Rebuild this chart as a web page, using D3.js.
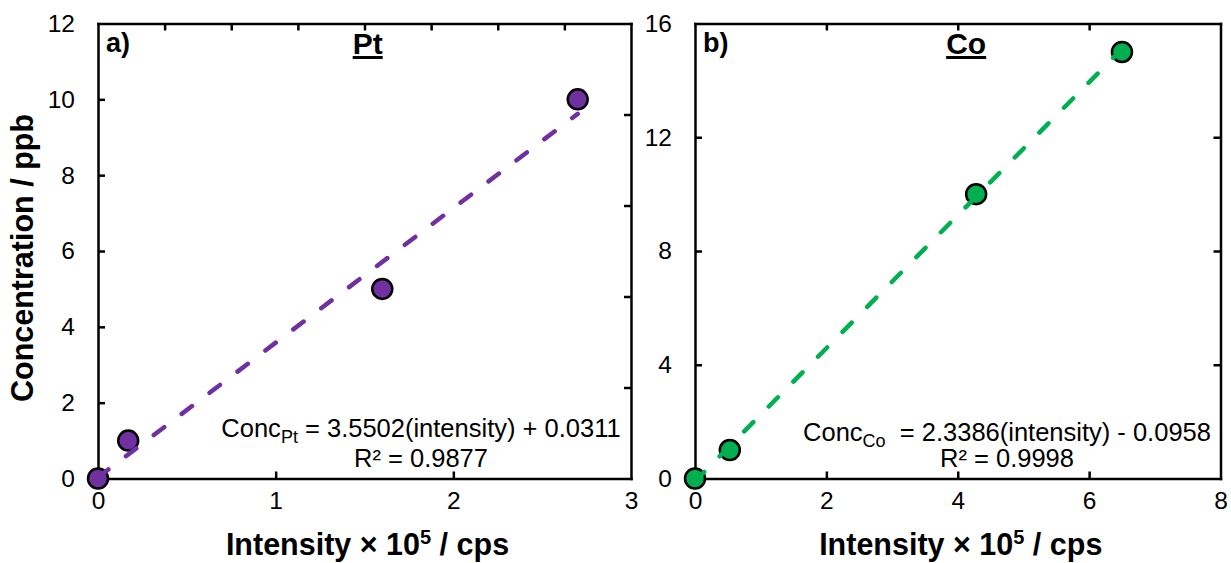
<!DOCTYPE html>
<meta charset="utf-8">
<style>
    body {
        margin: 0;
        background: #fff;
    }
    text {
        font-family: Arial, "Liberation Sans", sans-serif;
        fill: #000;
    }
    .axis path, .axis line {
        stroke: #000;
        stroke-width: 2.5;
    }
    .axis text {
        font-size: 24.5px;
    }
    .title {
        font-size: 30.5px;
        font-weight: bold;
    }
</style>
<body>
<script src="https://d3js.org/d3.v7.min.js"></script>
<script>

    // Pt calibration
    var ptIntensity = [0, 0.17, 1.6, 2.7],
        ptConc = [0, 1, 5, 10],
        ptFit = {slope: 3.5502, intercept: 0.0311, r2: "0.9877"},
        ptXTicks = [0, 1, 2, 3],
        ptYTicks = [0, 2, 4, 6, 8, 10, 12],
        ptTopTicks = [0.5, 1, 1.5, 2, 2.5, 3, 3.5],   // secondary axis, domain 0-4
        ptRightTicks = [2, 4, 6, 8];                  // secondary axis, domain 0-10

    // Co calibration
    var coIntensity = [0, 0.53, 4.28, 6.5],
        coConc = [0, 1, 10, 15],
        coFit = {slope: 2.3386, intercept: -0.0958, r2: "0.9998"},
        coXTicks = [0, 2, 4, 6, 8],
        coYTicks = [0, 4, 8, 12, 16],
        coTopTicks = [2, 4, 6],
        coRightTicks = [4, 8, 12];

    var width = 1231, height = 563;

    var svg = d3.select("body").append("svg")
            .attr("width", width)
            .attr("height", height);

    var panels = [
        {
            left: 98, right: 631, top: 23.5, bottom: 478.5,
            xs: ptIntensity, ys: ptConc, fit: ptFit,
            xDomain: [0, 3], yDomain: [0, 12],
            xTicks: ptXTicks, yTicks: ptYTicks,
            topDomain: [0, 4], topTicks: ptTopTicks,
            rightDomain: [0, 10], rightTicks: ptRightTicks,
            color: "#7030A0", label: "a)", name: "Pt", nameX: 0.506,
            eqX: 421, eqY: 437, r2Y: 467, sub: "Pt", gap: " = ",
            sign: " + "
        },
        {
            left: 695, right: 1220.5, top: 23.5, bottom: 478.5,
            xs: coIntensity, ys: coConc, fit: coFit,
            xDomain: [0, 8], yDomain: [0, 16],
            xTicks: coXTicks, yTicks: coYTicks,
            topDomain: [0, 8], topTicks: coTopTicks,
            rightDomain: [0, 16], rightTicks: coRightTicks,
            color: "#00B050", label: "b)", name: "Co", nameX: 0.516,
            eqX: 1007, eqY: 441, r2Y: 467, sub: "Co", gap: "\u00a0\u00a0= ",
            sign: " - "
        }
    ];

    panels.forEach(drawPanel);

    function drawPanel(p) {
        var x = d3.scaleLinear().domain(p.xDomain).range([p.left, p.right]),
            y = d3.scaleLinear().domain(p.yDomain).range([p.bottom, p.top]),
            xTop = d3.scaleLinear().domain(p.topDomain).range([p.left, p.right]),
            yRight = d3.scaleLinear().domain(p.rightDomain).range([p.bottom, p.top]);

        var g = svg.append("g");

        // secondary axes (no labels, ticks inward)
        g.append("g")
            .attr("class", "axis")
            .attr("transform", "translate(0," + p.top + ")")
            .call(d3.axisTop(xTop).tickValues(p.topTicks).tickSizeInner(-7).tickSizeOuter(0).tickFormat(""));

        g.append("g")
            .attr("class", "axis")
            .attr("transform", "translate(" + p.right + ",0)")
            .call(d3.axisRight(yRight).tickValues(p.rightTicks).tickSizeInner(-7).tickSizeOuter(0).tickFormat(""));

        // primary axes
        var gx = g.append("g")
            .attr("class", "axis")
            .attr("transform", "translate(0," + p.bottom + ")")
            .call(d3.axisBottom(x).tickValues(p.xTicks).tickSizeInner(-7).tickSizeOuter(0).tickPadding(13).tickFormat(d3.format("d")));

        var gy = g.append("g")
            .attr("class", "axis")
            .attr("transform", "translate(" + p.left + ",0)")
            .call(d3.axisLeft(y).tickValues(p.yTicks).tickSizeInner(-7).tickSizeOuter(0).tickPadding(23).tickFormat(d3.format("d")));

        g.selectAll(".axis").attr("font-family", null).attr("font-size", null);
        g.selectAll(".axis .domain").attr("stroke-linecap", "square");
        // hide the tick lines that sit on the corners
        gx.selectAll(".tick line").filter(function(d) { return d === 0 || d === p.xDomain[1]; }).remove();
        gy.selectAll(".tick line").filter(function(d) { return d === 0 || d === p.yDomain[1]; }).remove();

        // markers
        g.append("g")
            .selectAll("circle")
            .data(p.xs.map(function(d, i) { return [d, p.ys[i]]; }))
            .enter().append("circle")
            .attr("cx", function(d) { return x(d[0]); })
            .attr("cy", function(d) { return y(d[1]); })
            .attr("r", 10)
            .attr("fill", p.color)
            .attr("stroke", "#000")
            .attr("stroke-width", 2.5);

        // linear trendline, drawn over markers as in the source
        var xMax = d3.max(p.xs);
        var line = d3.line()
            .x(function(d) { return x(d); })
            .y(function(d) { return y(p.fit.slope * d + p.fit.intercept); });

        g.append("path")
            .datum([0, xMax])
            .attr("d", line)
            .attr("fill", "none")
            .attr("stroke", p.color)
            .attr("stroke-width", 4.5)
            .attr("stroke-linecap", "round")
            .attr("stroke-dasharray", "13,22");

        // panel label and element title
        g.append("text")
            .attr("x", p.left + 8)
            .attr("y", 52)
            .attr("font-size", 27)
            .attr("font-weight", "bold")
            .text(p.label);

        var cx = p.left + p.nameX * (p.right - p.left);
        g.append("text")
            .attr("x", cx)
            .attr("y", 54)
            .attr("text-anchor", "middle")
            .attr("font-size", 30)
            .attr("font-weight", "bold")
            .attr("text-decoration", "underline")
            .text(p.name);

        // fit equation
        var eq = g.append("text")
            .attr("x", p.eqX)
            .attr("y", p.eqY)
            .attr("text-anchor", "middle")
            .attr("font-size", 25.5);
        eq.append("tspan").text("Conc");
        eq.append("tspan").attr("font-size", 18).attr("dy", 6).text(p.sub);
        eq.append("tspan").attr("dy", -6).text(p.gap + p.fit.slope.toFixed(4) + "(intensity)" + p.sign + Math.abs(p.fit.intercept).toFixed(4));

        g.append("text")
            .attr("x", p.eqX)
            .attr("y", p.r2Y)
            .attr("text-anchor", "middle")
            .attr("font-size", 25.5)
            .text("R\u00b2 = " + p.fit.r2);

        // axis titles
        var xt = g.append("text")
            .attr("class", "title")
            .attr("x", (p.left + p.right) / 2 + 3)
            .attr("y", 555)
            .attr("text-anchor", "middle");
        xt.append("tspan").text("Intensity \u00d7 10");
        xt.append("tspan").attr("font-size", 20).attr("dy", -11).text("5");
        xt.append("tspan").attr("dy", 11).text(" / cps");
    }

    svg.append("text")
        .attr("class", "title")
        .attr("transform", "translate(33,258) rotate(-90)")
        .attr("text-anchor", "middle")
        .text("Concentration / ppb");

</script>
